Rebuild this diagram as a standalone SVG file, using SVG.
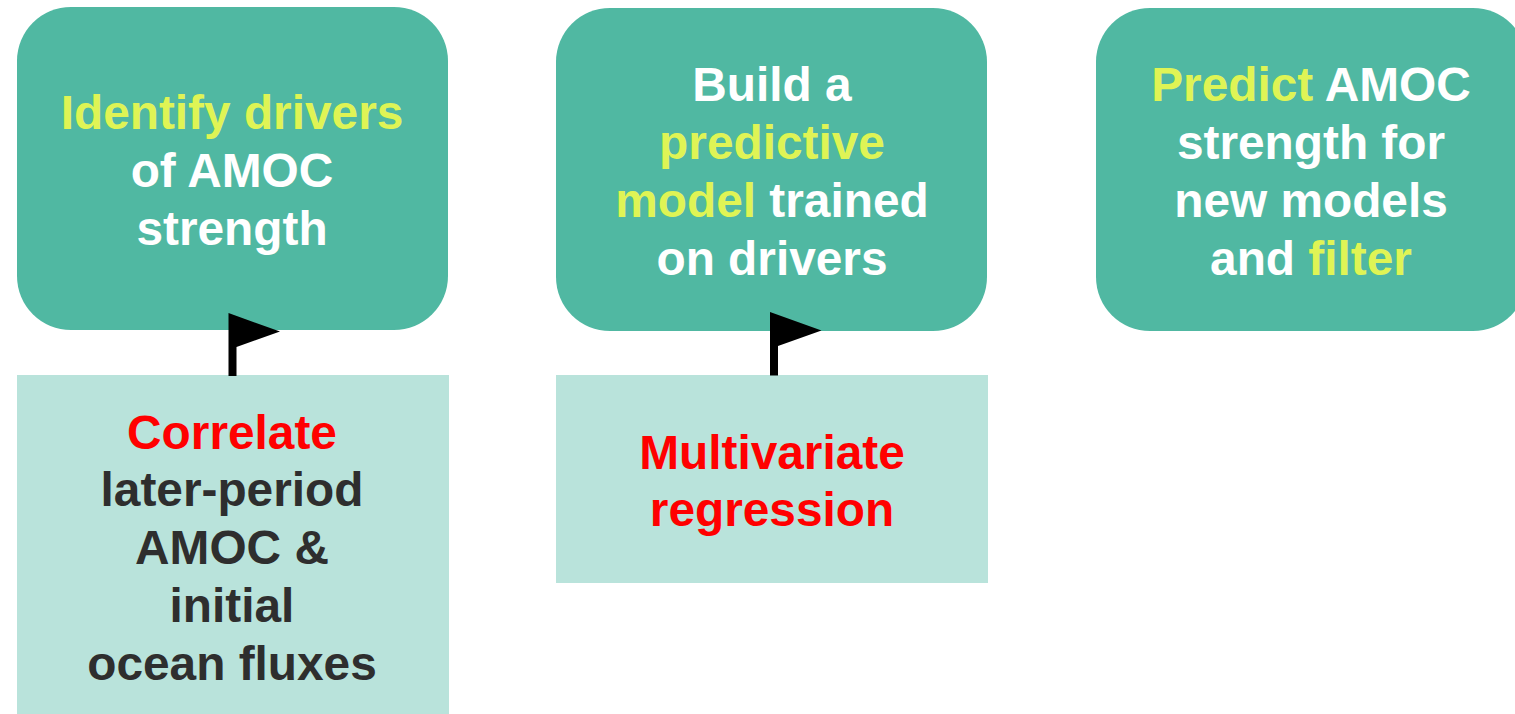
<svg xmlns="http://www.w3.org/2000/svg" width="1515" height="714" viewBox="0 0 1515 714">
<style>
text{font-family:"Liberation Sans",Arial,sans-serif;font-weight:700;font-size:47.8px;text-anchor:middle}
.top{fill:#50b8a2}
.sub{fill:#b9e3db}
.w{fill:#fff}
.y{fill:#dff455}
.r{fill:#ff0000}
.d{fill:#2e2e2e}
.flag{fill:#000}
</style>
<rect width="1515" height="714" fill="#fff"/>
<g id="node-identify"><rect class="top" x="17" y="7" width="431" height="323" rx="54"/>
<text x="232" y="128.500"><tspan class="y">Identify drivers</tspan></text>
<text x="232" y="186.500" class="w">of AMOC</text>
<text x="232" y="244.500" class="w">strength</text></g>
<g id="node-build"><rect class="top" x="556" y="8" width="431" height="323" rx="54"/>
<text x="772" y="100.500" class="w">Build a</text>
<text x="772" y="158.500" class="y">predictive</text>
<text x="772" y="216.500"><tspan class="y">model</tspan><tspan class="w"> trained</tspan></text>
<text x="772" y="274.500" class="w">on drivers</text></g>
<g id="node-predict"><rect class="top" x="1096" y="8" width="431" height="323" rx="54"/>
<text x="1311" y="100.500"><tspan class="y">Predict</tspan><tspan class="w"> AMOC</tspan></text>
<text x="1311" y="158.500" class="w">strength for</text>
<text x="1311" y="216.500" class="w">new models</text>
<text x="1311" y="274.500"><tspan class="w">and </tspan><tspan class="y">filter</tspan></text></g>
<g id="node-correlate"><rect class="sub" x="17" y="375" width="432" height="339"/>
<text x="232" y="448.500" class="r">Correlate</text>
<text x="232" y="505.500" class="d">later-period</text>
<text x="232" y="563.500" class="d">AMOC &amp;</text>
<text x="232" y="621.500" class="d">initial</text>
<text x="232" y="679.500" class="d">ocean fluxes</text></g>
<g id="node-regression"><rect class="sub" x="556" y="375" width="432" height="208"/>
<text x="772" y="468.500" class="r">Multivariate</text>
<text x="772" y="525.500" class="r">regression</text></g>
<g id="connectors">
<path class="flag" d="M228.500 313L280 331.500L236.500 347V376H228.500Z"/>
<path class="flag" d="M770 312L821.500 330.500L778 346V375.500H770Z"/>
</g>
</svg>
